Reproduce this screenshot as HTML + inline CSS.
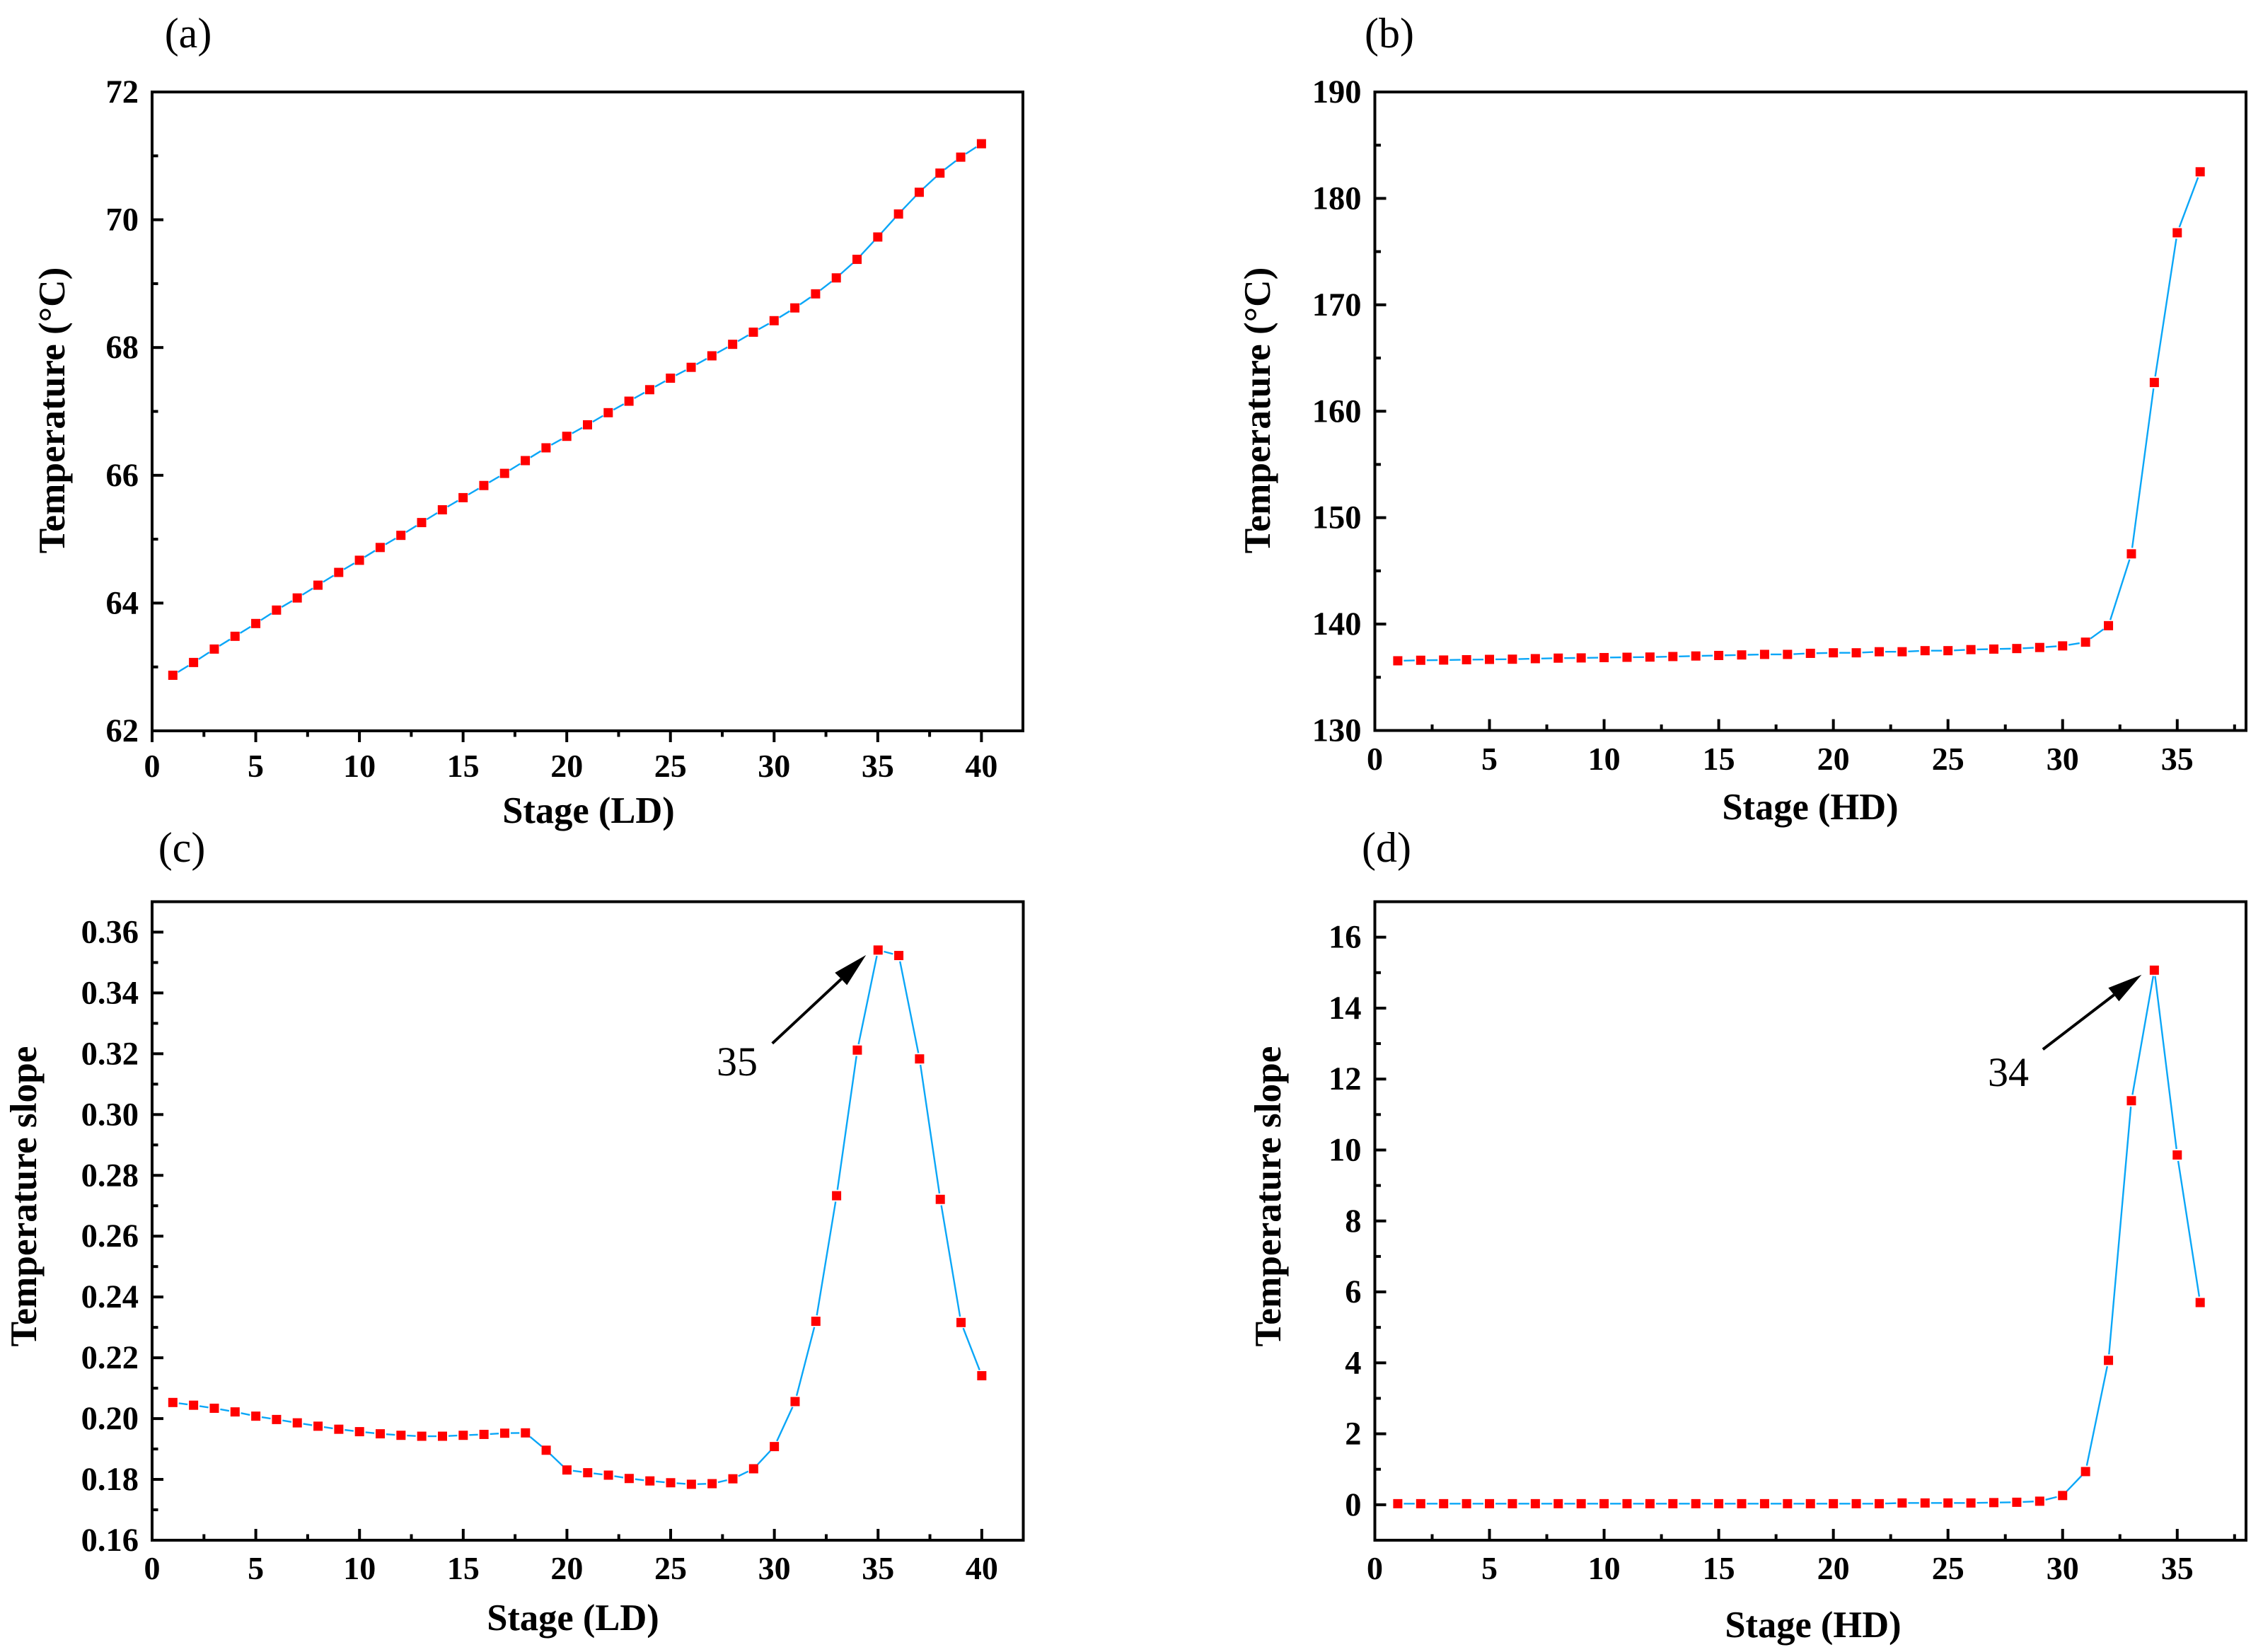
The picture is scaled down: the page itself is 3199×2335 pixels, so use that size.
<!DOCTYPE html>
<html lang="en">
<head>
<meta charset="utf-8">
<title>Temperature and temperature slope by stage</title>
<style>
  html, body { margin: 0; padding: 0; background: #fff; }
  svg { display: block; font-family: "Liberation Serif", "Times New Roman", serif; }
  text { fill: #000; }
</style>
</head>
<body>
<svg id="figure" xmlns="http://www.w3.org/2000/svg" width="3199" height="2335" viewBox="0 0 3199 2335">
  <rect x="0" y="0" width="3199" height="2335" fill="#ffffff"/>
</svg>
<script>
// ---------- chart data ----------
const stagesLD = [1,2,3,4,5,6,7,8,9,10,11,12,13,14,15,16,17,18,19,20,21,22,23,24,25,26,27,28,29,30,31,32,33,34,35,36,37,38,39,40];
const stagesHD = [1,2,3,4,5,6,7,8,9,10,11,12,13,14,15,16,17,18,19,20,21,22,23,24,25,26,27,28,29,30,31,32,33,34,35,36];

const temperatureLD = [62.87,63.07,63.28,63.48,63.68,63.89,64.08,64.28,64.48,64.67,64.87,65.06,65.26,65.46,65.65,65.84,66.03,66.23,66.43,66.61,66.79,66.98,67.16,67.34,67.52,67.69,67.87,68.05,68.24,68.42,68.62,68.84,69.09,69.38,69.73,70.09,70.43,70.73,70.98,71.19];
const temperatureHD = [136.55,136.6,136.62,136.65,136.68,136.7,136.75,136.8,136.82,136.85,136.88,136.9,136.95,137.0,137.05,137.1,137.15,137.15,137.25,137.3,137.3,137.4,137.4,137.5,137.5,137.6,137.65,137.7,137.8,137.95,138.3,139.85,146.6,162.7,176.77,182.5];
const slopeLD = [0.2053,0.2044,0.2034,0.2022,0.2008,0.1997,0.1986,0.1975,0.1965,0.1957,0.1950,0.1945,0.1942,0.1942,0.1945,0.1948,0.1952,0.1953,0.1896,0.1831,0.1822,0.1814,0.1803,0.1795,0.1789,0.1784,0.1786,0.1802,0.1835,0.1908,0.2056,0.2320,0.2733,0.3212,0.3541,0.3523,0.3183,0.2721,0.2316,0.2141];
const slopeHD = [0.03,0.03,0.03,0.03,0.03,0.03,0.03,0.03,0.03,0.03,0.03,0.03,0.03,0.03,0.03,0.03,0.03,0.03,0.03,0.03,0.03,0.03,0.05,0.05,0.05,0.05,0.06,0.07,0.10,0.26,0.935,4.07,11.39,15.07,9.86,5.70];

const xTickLabelsLD = ['0','5','10','15','20','25','30','35','40'];
const xTickLabelsHD = ['0','5','10','15','20','25','30','35'];
const xMinorTicks = [2.5,7.5,12.5,17.5,22.5,27.5,32.5,37.5];

const yTickLabelsA = ['62','64','66','68','70','72'];
const yMinorTicksA = [63,65,67,69,71];
const yTickLabelsB = ['130','140','150','160','170','180','190'];
const yMinorTicksB = [135,145,155,165,175,185];
const yTickLabelsC = ['0.16','0.18','0.20','0.22','0.24','0.26','0.28','0.30','0.32','0.34','0.36'];
const yMinorTicksC = [0.17,0.19,0.21,0.23,0.25,0.27,0.29,0.31,0.33,0.35];
const yTickLabelsD = ['0','2','4','6','8','10','12','14','16'];
const yMinorTicksD = [1,3,5,7,9,11,13,15];

// ---------- panel layout ----------
const panels = [
  { id:'a', letter:'(a)', letterX:266, letterY:67,
    left:215, right:1446, top:130, bottom:1033, xMin:0, xMax:42, yMin:62, yMax:72,
    stages:stagesLD, values:temperatureLD, xLabels:xTickLabelsLD, yLabels:yTickLabelsA, yMinor:yMinorTicksA,
    xTickDir:1, xLabelY:1098, xTitle:'Stage (LD)', xTitleX:832, xTitleY:1163,
    yTitle:'Temperature (°C)', yTitleX:91, yTitleY:580 },
  { id:'b', letter:'(b)', letterX:1964, letterY:67,
    left:1943.5, right:3175, top:130, bottom:1032.5, xMin:0, xMax:38, yMin:130, yMax:190,
    stages:stagesHD, values:temperatureHD, xLabels:xTickLabelsHD, yLabels:yTickLabelsB, yMinor:yMinorTicksB,
    xTickDir:-1, xLabelY:1088, xTitle:'Stage (HD)', xTitleX:2559, xTitleY:1158,
    yTitle:'Temperature (°C)', yTitleX:1795, yTitleY:580 },
  { id:'c', letter:'(c)', letterX:257, letterY:1218,
    left:215, right:1446.5, top:1274.5, bottom:2177, xMin:0, xMax:42, yMin:0.16, yMax:0.37,
    stages:stagesLD, values:slopeLD, xLabels:xTickLabelsLD, yLabels:yTickLabelsC, yMinor:yMinorTicksC,
    xTickDir:-1, xLabelY:2232, xTitle:'Stage (LD)', xTitleX:810, xTitleY:2304,
    yTitle:'Temperature slope', yTitleX:51, yTitleY:1691,
    note:{ text:'35', stage:35, textX:1042, textY:1520,
      tail:[-149.5,132], tip:[-17,7], baseA:[-61,32], baseB:[-44,49.5], notch:[-52,41] } },
  { id:'d', letter:'(d)', letterX:1960, letterY:1218,
    left:1943.5, right:3175, top:1274.5, bottom:2177, xMin:0, xMax:38, yMin:-1, yMax:17,
    stages:stagesHD, values:slopeHD, xLabels:xTickLabelsHD, yLabels:yTickLabelsD, yMinor:yMinorTicksD,
    xTickDir:-1, xLabelY:2232, xTitle:'Stage (HD)', xTitleX:2563, xTitleY:2314,
    yTitle:'Temperature slope', yTitleX:1810, yTitleY:1691,
    note:{ text:'34', stage:34, textX:2839, textY:1535,
      tail:[-157.5,112], tip:[-18,6.5], baseA:[-65,25], baseB:[-50,44], notch:[-57,35] } }
];

const SVG_NS = 'http://www.w3.org/2000/svg';
const figure = document.getElementById('figure');
const LINE_COLOR = '#0aa6f7';
const MARKER_COLOR = '#ff0000';
const MARKER_SIZE = 13;
const LINE_GAP = 8.5;
const MAJOR_LEN = 16;
const MINOR_LEN = 8.5;

function xScale(p, v) { return p.left + (v - p.xMin) / (p.xMax - p.xMin) * (p.right - p.left); }
function yScale(p, v) { return p.bottom - (v - p.yMin) / (p.yMax - p.yMin) * (p.bottom - p.top); }

function addLine(parent, name, x1, y1, x2, y2, color, width) {
  const el = document.createElementNS(SVG_NS, 'line');
  
  
  el.setAttribute('x1', x1);
  el.setAttribute('y1', y1);
  el.setAttribute('x2', x2);
  el.setAttribute('y2', y2);
  el.setAttribute('stroke', color);
  el.setAttribute('stroke-width', width);
  parent.appendChild(el);
  return el;
}

function addText(parent, name, str, x, y, size, weight, anchor, rotate) {
  const el = document.createElementNS(SVG_NS, 'text');
  
  
  el.setAttribute('x', x);
  el.setAttribute('y', y);
  el.setAttribute('font-size', size);
  el.setAttribute('font-weight', weight);
  el.setAttribute('text-anchor', anchor);
  if (rotate) el.setAttribute('transform', 'rotate(-90 ' + x + ' ' + y + ')');
  el.textContent = str;
  parent.appendChild(el);
  return el;
}

function addGroup(parent, name) {
  const el = document.createElementNS(SVG_NS, 'g');
  
  
  parent.appendChild(el);
  return el;
}

function drawPanel(p) {
  const g = addGroup(figure, 'panel-' + p.id);
  addText(g, 'panel-label-' + p.id, p.letter, p.letterX, p.letterY, 60, 'normal', 'middle', false);

  // frame
  const frame = document.createElementNS(SVG_NS, 'rect');
  
  
  frame.setAttribute('x', p.left);
  frame.setAttribute('y', p.top);
  frame.setAttribute('width', p.right - p.left);
  frame.setAttribute('height', p.bottom - p.top);
  frame.setAttribute('fill', 'none');
  frame.setAttribute('stroke', '#000');
  frame.setAttribute('stroke-width', 4);
  g.appendChild(frame);

  // x axis
  const xAxis = addGroup(g, 'x-axis-' + p.id);
  p.xLabels.forEach(function (label) {
    const v = Number(label);
    const x = xScale(p, v);
    addLine(xAxis, 'x-major-tick', x, p.bottom, x, p.bottom + p.xTickDir * MAJOR_LEN, '#000', 4);
    addText(xAxis, 'x-tick-label', label, x, p.xLabelY, 46, 'bold', 'middle', false);
  });
  xMinorTicks.forEach(function (v) {
    if (v > p.xMax) return;
    const x = xScale(p, v);
    addLine(xAxis, 'x-minor-tick', x, p.bottom, x, p.bottom + p.xTickDir * MINOR_LEN, '#000', 4);
  });
  addText(xAxis, 'x-axis-title', p.xTitle, p.xTitleX, p.xTitleY, 52.5, 'bold', 'middle', false);

  // y axis
  const yAxis = addGroup(g, 'y-axis-' + p.id);
  const labelRight = p.left - 19;
  p.yLabels.forEach(function (label) {
    const y = yScale(p, Number(label));
    addLine(yAxis, 'y-major-tick', p.left, y, p.left + MAJOR_LEN, y, '#000', 4);
    addText(yAxis, 'y-tick-label', label, labelRight, y + 15, 46.5, 'bold', 'end', false);
  });
  p.yMinor.forEach(function (v) {
    const y = yScale(p, v);
    addLine(yAxis, 'y-minor-tick', p.left, y, p.left + MINOR_LEN, y, '#000', 4);
  });
  addText(yAxis, 'y-axis-title', p.yTitle, p.yTitleX, p.yTitleY, 53.3, 'bold', 'middle', true);

  // series line, with a small gap around each marker
  const series = addGroup(g, 'data-series-' + p.id);
  for (let i = 0; i < p.values.length - 1; i++) {
    const x1 = xScale(p, p.stages[i]);
    const y1 = yScale(p, p.values[i]);
    const x2 = xScale(p, p.stages[i + 1]);
    const y2 = yScale(p, p.values[i + 1]);
    const dx = x2 - x1;
    const dy = y2 - y1;
    const len = Math.sqrt(dx * dx + dy * dy);
    if (len <= LINE_GAP * 2) continue;
    const ux = dx / len;
    const uy = dy / len;
    addLine(series, 'series-line-segment', x1 + ux * LINE_GAP, y1 + uy * LINE_GAP, x2 - ux * LINE_GAP, y2 - uy * LINE_GAP, LINE_COLOR, 2.4);
  }
  // series markers
  p.values.forEach(function (v, i) {
    const cx = xScale(p, p.stages[i]);
    const cy = yScale(p, v);
    const m = document.createElementNS(SVG_NS, 'rect');
    
    
    m.setAttribute('x', cx - MARKER_SIZE / 2);
    m.setAttribute('y', cy - MARKER_SIZE / 2);
    m.setAttribute('width', MARKER_SIZE);
    m.setAttribute('height', MARKER_SIZE);
    m.setAttribute('fill', MARKER_COLOR);
    series.appendChild(m);
  });

  // peak annotation, anchored to the annotated data point
  if (p.note) {
    const n = p.note;
    const idx = p.stages.indexOf(n.stage);
    const ax = xScale(p, p.stages[idx]);
    const ay = yScale(p, p.values[idx]);
    const note = addGroup(g, 'peak-annotation-' + p.id);
    addLine(note, 'peak-arrow-shaft', ax + n.tail[0], ay + n.tail[1], ax + n.notch[0], ay + n.notch[1], '#000', 4);
    const head = document.createElementNS(SVG_NS, 'polygon');
    
    
    head.setAttribute('points', [n.tip, n.baseA, n.notch, n.baseB].map(function (o) {
      return (ax + o[0]) + ',' + (ay + o[1]);
    }).join(' '));
    head.setAttribute('fill', '#000');
    note.appendChild(head);
    addText(note, 'peak-stage-label', n.text, n.textX, n.textY, 58, 'normal', 'middle', false);
  }
}

panels.forEach(drawPanel);
</script>
</body>
</html>
